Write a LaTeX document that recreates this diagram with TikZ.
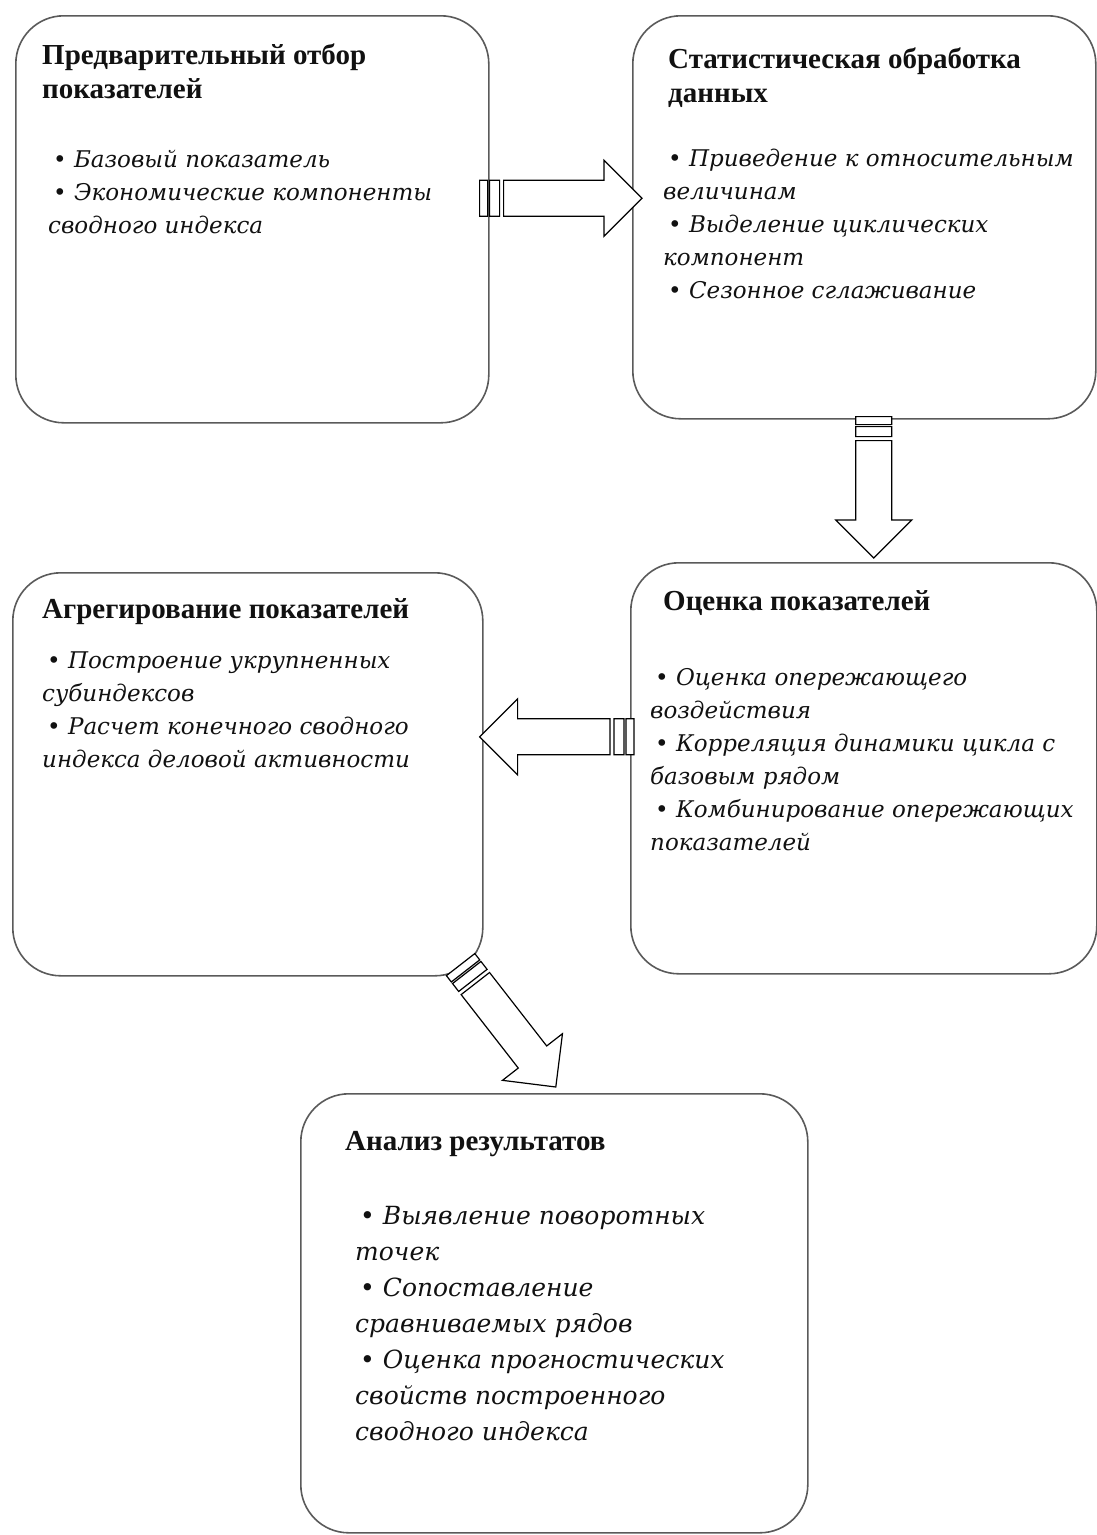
\documentclass[tikz,border=0pt]{standalone}
\usepackage{fontspec}
\setmainfont{Liberation Serif}
\newfontfamily\kursiv{DejaVu Serif}
\usepackage{tikz}
\usetikzlibrary{calc,positioning}
\definecolor{fundo}{HTML}{FFFFFF}
\definecolor{rama}{HTML}{5A5A5A}
\definecolor{tekst}{HTML}{111111}
\newcommand{\punkt}{\hspace*{5pt}\textbullet\ }

\begin{document}
\begin{tikzpicture}[x=1pt,y=-1pt,
    etap/.style={draw=rama, line width=1.6pt, rounded corners=48pt, fill=fundo, anchor=north west, inner sep=0pt},
    zag/.style={font=\fontsize{29}{34}\selectfont\bfseries, text=tekst, align=left, anchor=base west, inner sep=0pt},
    spis/.style={font=\kursiv\itshape\fontsize{23}{33}\selectfont, text=tekst, align=left, anchor=base west, inner sep=0pt},
    ar/.style={draw=black, line width=1.2pt, fill=fundo, line join=miter}]
  \useasboundingbox (0,0) rectangle (1097,1535);
  % etapy
  \node[etap, minimum width=473pt, minimum height=407pt] (pre) at (15,15) {};
  \node[etap, minimum width=463pt, minimum height=403pt] (stat) at (632,15) {};
  \node[etap, minimum width=470pt, minimum height=403pt] (agg) at (12,572) {};
  \node[etap, minimum width=466pt, minimum height=411pt] (ocen) at (630,562) {};
  \node[etap, minimum width=507pt, minimum height=439pt] (anal) at (300,1093) {};
  % teksty (at = baseline of the last line)
  \node[zag] (pre-z) at (42,98) {Предварительный отбор\\показателей};
  \node[spis] (pre-s) at (48,233) {\punkt Базовый показатель\\\punkt Экономические компоненты\\сводного индекса};
  \node[zag] (stat-z) at (668,102) {Статистическая обработка\\данных};
  \node[spis] (stat-s) at (663,298) {\punkt Приведение к относительным\\величинам\\\punkt Выделение циклических\\компонент\\\punkt Сезонное сглаживание};
  \node[zag] (agg-z) at (42,618) {Агрегирование показателей};
  \node[spis] (agg-s) at (42,767) {\punkt Построение укрупненных\\субиндексов\\\punkt Расчет конечного сводного\\индекса деловой активности};
  \node[zag] (ocen-z) at (663,610) {Оценка показателей};
  \node[spis] (ocen-s) at (650,850) {\punkt Оценка опережающего\\воздействия\\\punkt Корреляция динамики цикла с\\базовым рядом\\\punkt Комбинирование опережающих\\показателей};
  \node[zag] (anal-z) at (345,1150) {Анализ результатов};
  \node[spis, font=\kursiv\itshape\fontsize{25}{36}\selectfont] (anal-s) at (355,1440) {\punkt Выявление поворотных\\точек\\\punkt Сопоставление\\сравниваемых рядов\\\punkt Оценка прогностических\\свойств построенного\\сводного индекса};
  % strelki
  \coordinate (s1) at ($(pre.east)+(-10,-21)$);
  \coordinate (e1) at ($(stat.west)+(10,-19)$);
  \coordinate (s2) at ($(stat.south)+(9.5,-3)$);
  \coordinate (e2) at ($(ocen.north)+(10,-4)$);
  \coordinate (s3) at ($(ocen.west)+(4,-31.5)$);
  \coordinate (e3) at ($(agg.east)+(-4,-37.5)$);
  \coordinate (s4) at ($(agg.south east)+(-23,-12)$);
  \coordinate (e4) at ($(anal.north)+(1.5,-6)$);
  \foreach \a/\b in {s1/e1,s2/e2,s3/e3,s4/e4}{
    \draw[ar] let \p1=($(\b)-(\a)$), \n1={atan2(\y1,\x1)} in
      ($(\a)+(\n1+90:18pt)$) -- ++(\n1:8pt) -- ++(\n1-90:36pt) -- ++(\n1+180:8pt) -- cycle
      ($(\a)+(\n1:10pt)+(\n1+90:18pt)$) -- ++(\n1:10pt) -- ++(\n1-90:36pt) -- ++(\n1+180:10pt) -- cycle
      ($(\a)+(\n1:24pt)+(\n1+90:18pt)$) -- ($(\b)+(\n1+180:38pt)+(\n1+90:18pt)$) -- ++(\n1+90:20pt) -- (\b)
      -- ($(\b)+(\n1+180:38pt)+(\n1-90:38pt)$) -- ++(\n1+90:20pt) -- ($(\a)+(\n1:24pt)+(\n1-90:18pt)$) -- cycle;}
\end{tikzpicture}
\end{document}
